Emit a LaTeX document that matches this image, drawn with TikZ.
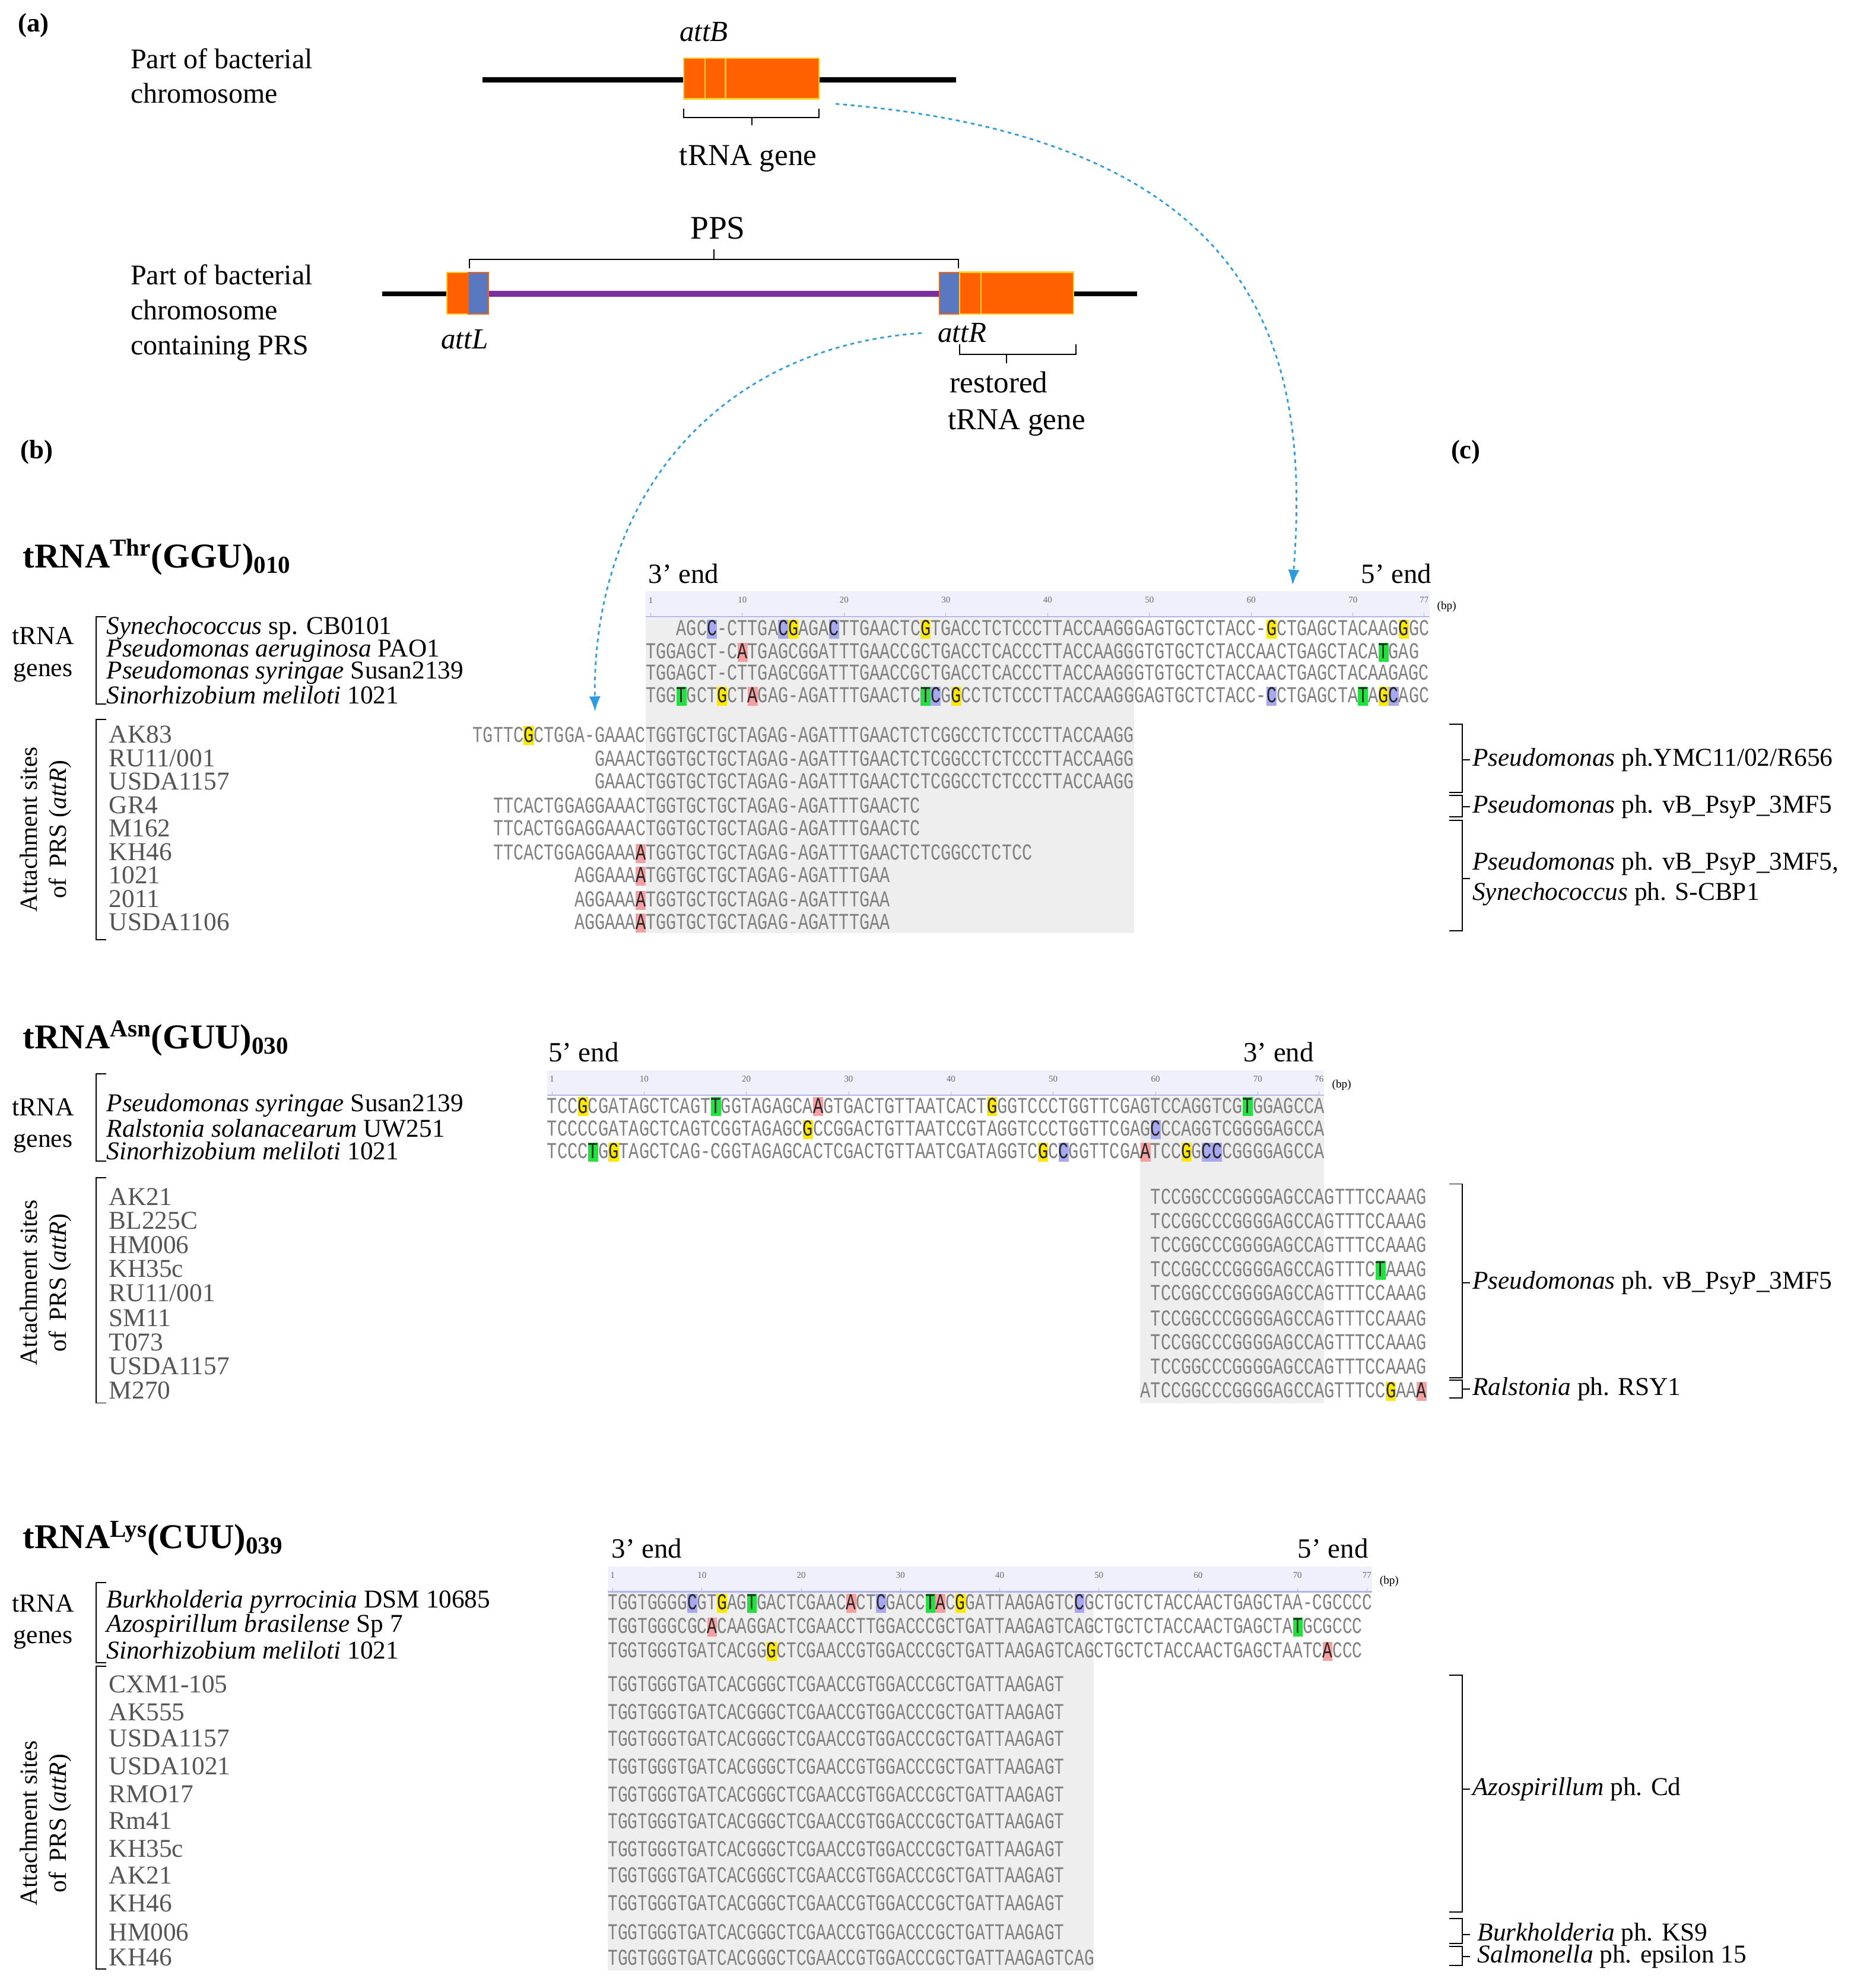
\documentclass[tikz,border=0pt]{standalone}
\usepackage{fontspec}
\setmainfont{Liberation Serif}
\newfontfamily\seqf{Liberation Mono}
\usepackage{graphicx}
\usetikzlibrary{arrows.meta}
\definecolor{orng}{HTML}{FF6000}
\definecolor{yel}{HTML}{FFD21F}
\definecolor{purp}{HTML}{7A2EA0}
\definecolor{bbox}{HTML}{5A78C0}
\definecolor{arr}{HTML}{2E9BE0}
\definecolor{hy}{HTML}{FFE800}
\definecolor{hg}{HTML}{22E040}
\definecolor{hb}{HTML}{A8A8F0}
\definecolor{hr}{HTML}{F5A0A0}
\definecolor{seqgray}{HTML}{808080}
\definecolor{graybg}{HTML}{EEEEEE}
\definecolor{band}{HTML}{F0F0FC}
\definecolor{bandline}{HTML}{B4B4EC}
\definecolor{lab}{HTML}{555555}
\newcommand\hlbox[2]{{\setlength{\fboxsep}{0pt}\colorbox{#1}{\color{black!85}\rule[-2.5pt]{0pt}{15pt}#2}}}
\newcommand\hY[1]{\hlbox{hy}{#1}}
\newcommand\hG[1]{\hlbox{hg}{#1}}
\newcommand\hB[1]{\hlbox{hb}{#1}}
\newcommand\hR[1]{\hlbox{hr}{#1}}
\tikzset{
 seq/.style={anchor=base west,inner sep=0pt,text=seqgray,font=\seqf\fontsize{18}{18}\selectfont},
 txt/.style={anchor=west,inner sep=0pt,font=\fontsize{22.5}{27.5}\selectfont,align=left},
 nm/.style={anchor=west,inner sep=0pt,font=\fontsize{20.3}{20}\selectfont},
 attl/.style={anchor=west,inner sep=0pt,text=lab,font=\fontsize{20.3}{20}\selectfont},
 ttl/.style={anchor=west,inner sep=0pt,font=\bfseries\fontsize{27.5}{27.5}\selectfont},
 endl/.style={anchor=west,inner sep=0pt,font=\fontsize{22}{22}\selectfont},
 big/.style={inner sep=0pt,font=\fontsize{24}{24}\selectfont},
 rot/.style={rotate=90,align=center,inner sep=0pt,font=\fontsize{19.5}{23}\selectfont},
 brk/.style={line width=0.9pt},
 darr/.style={arr,dashed,line width=1.3pt,-{Latex[length=12pt,width=9pt]}},
}
\newcommand\rbr[3]{\draw[brk] (1145,-#1) -- (1155,-#1) -- (1155,-#2) -- (1145,-#2); \draw[brk] (1155,-#3) -- (1161,-#3);}
\newcommand\lbr[2]{\draw[brk] (84,-#1) -- (76,-#1) -- (76,-#2) -- (84,-#2);}
\newcommand\hband[5]{%
 \fill[band] (#1,-#3) rectangle ({#1+#4*#2},{-#3-20});
 \draw[bandline,line width=1.2pt] (#1,{-#3-20}) -- ({#1+#4*#2},{-#3-20});
 \foreach \c in {1,10,20,30,40,50,60,70,#4}{
  \node[inner sep=0pt,text=black!60,font=\fontsize{7}{7}\selectfont] at ({#1+(\c-0.5)*#2},{-#3-7}) {\c};
  \draw[bandline] ({#1+(\c-0.5)*#2},{-#3-17}) -- ({#1+(\c-0.5)*#2},{-#3-20});}
 \node[inner sep=0pt,anchor=west,font=\fontsize{9}{9}\selectfont] at ({#1+#4*#2+6},{-#3-12}) {(bp)};}
\begin{document}
\begin{tikzpicture}[x=1pt,y=1pt]
\useasboundingbox[fill=white] (0,0) rectangle (1462,-1570);

% ---------- (a)
\node[anchor=west,inner sep=0pt,font=\bfseries\fontsize{21}{21}\selectfont] (la) at (14,-20) {(a)};
\node[txt] (t1) at (103,-60) {Part of bacterial\\chromosome};
\draw[line width=4pt] (381,-63) -- (755,-63);
\filldraw[fill=orng,draw=yel,line width=1.2pt] (540,-46) rectangle (647,-78);
\draw[yel,line width=1.2pt] (557,-46) -- (557,-78) (573,-46) -- (573,-78);
\node[big,font=\itshape\fontsize{23}{23}\selectfont] (attB) at (556,-25) {attB};
\draw[brk] (540,-86) -- (540,-93) -- (647,-93) -- (647,-86);
\draw[brk] (594,-93) -- (594,-99);
\node[big] (tg) at (591,-125) {tRNA gene};

\node[big,font=\fontsize{26}{26}\selectfont] (pps) at (567,-180) {PPS};
\draw[brk] (371,-212) -- (371,-205) -- (757,-205) -- (757,-212);
\draw[brk] (564,-205) -- (564,-197);
\node[txt] (t2) at (103,-247) {Part of bacterial\\chromosome\\containing PRS};
\draw[line width=4pt] (302,-232) -- (898,-232);
\draw[purp,line width=5pt] (386,-232) -- (742,-232);
\filldraw[fill=orng,draw=yel,line width=1pt] (353,-215) rectangle (371,-248);
\filldraw[fill=bbox,draw=orng,line width=1pt] (370,-215) rectangle (386,-248);
\filldraw[fill=bbox,draw=orng,line width=1pt] (742,-215) rectangle (758,-248);
\filldraw[fill=orng,draw=yel,line width=1.2pt] (758,-215) rectangle (848,-248);
\draw[yel,line width=1.2pt] (775,-215) -- (775,-248);
\node[big,font=\itshape\fontsize{23}{23}\selectfont] (attL) at (367,-268) {attL};
\node[big,font=\itshape\fontsize{23}{23}\selectfont] (attR) at (760,-263) {attR};
\draw[brk] (758,-272) -- (758,-280) -- (850,-280) -- (850,-272);
\draw[brk] (795,-280) -- (795,-287);
\node[big] (rt1) at (789,-302) {restored};
\node[big] (rt2) at (803,-334) {tRNA gene};

\coordinate (a1s) at (660,-82);
\coordinate (a1e) at (1021,-462);
\coordinate (a2s) at (728,-263);
\coordinate (a2e) at (470,-562);
\draw[darr] (a1s) .. controls (1000,-110) and (1035,-280) .. (a1e);
\draw[darr] (a2s) .. controls (560,-275) and (468,-400) .. (a2e);

\node[anchor=west,inner sep=0pt,font=\bfseries\fontsize{21}{21}\selectfont] (lb) at (16,-357) {(b)};
\node[anchor=west,inner sep=0pt,font=\bfseries\fontsize{21}{21}\selectfont] (lc) at (1146,-357) {(c)};

% ---------- block 1
\node[ttl] (T1) at (18,-440) {tRNA\textsuperscript{Thr}(GGU)\textsubscript{010}};
\node[endl] (e1a) at (512,-453) {3’ end};
\node[endl] (e1b) at (1075,-453) {5’ end};
\fill[graybg] (510,-488) rectangle (896,-737);
\hband{510}{8.04}{467}{77}{}
\node[seq] (s1r1) at (534.1,-502) {\scalebox{0.744}[1]{AGC\hB{C}-CTTGA\hB{C}\hY{G}AGA\hB{C}TTGAACTC\hY{G}TGACCTCTCCCTTACCAAGGGAGTGCTCTACC-\hY{G}CTGAGCTACAAG\hY{G}GC}};
\node[seq] (s1r2) at (510,-520) {\scalebox{0.744}[1]{TGGAGCT-C\hR{A}TGAGCGGATTTGAACCGCTGACCTCACCCTTACCAAGGGTGTGCTCTACCAACTGAGCTACA\hG{T}GAG}};
\node[seq] (s1r3) at (510,-537) {\scalebox{0.744}[1]{TGGAGCT-CTTGAGCGGATTTGAACCGCTGACCTCACCCTTACCAAGGGTGTGCTCTACCAACTGAGCTACAAGAGC}};
\node[seq] (s1r4) at (510,-555) {\scalebox{0.744}[1]{TGG\hG{T}GCT\hY{G}CT\hR{A}GAG-AGATTTGAACTC\hG{T}\hB{C}G\hY{G}CCTCTCCCTTACCAAGGGAGTGCTCTACC-\hB{C}CTGAGCTA\hG{T}A\hY{G}\hB{C}AGC}};
\node[seq] (s1a1) at (373.3,-586) {\scalebox{0.744}[1]{TGTTC\hY{G}CTGGA-GAAACTGGTGCTGCTAGAG-AGATTTGAACTCTCGGCCTCTCCCTTACCAAGG}};
\node[seq] (s1a2) at (469.8,-605) {\scalebox{0.744}[1]{GAAACTGGTGCTGCTAGAG-AGATTTGAACTCTCGGCCTCTCCCTTACCAAGG}};
\node[seq] (s1a3) at (469.8,-623) {\scalebox{0.744}[1]{GAAACTGGTGCTGCTAGAG-AGATTTGAACTCTCGGCCTCTCCCTTACCAAGG}};
\node[seq] (s1a4) at (389.4,-642) {\scalebox{0.744}[1]{TTCACTGGAGGAAACTGGTGCTGCTAGAG-AGATTTGAACTC}};
\node[seq] (s1a5) at (389.4,-660) {\scalebox{0.744}[1]{TTCACTGGAGGAAACTGGTGCTGCTAGAG-AGATTTGAACTC}};
\node[seq] (s1a6) at (389.4,-679) {\scalebox{0.744}[1]{TTCACTGGAGGAAA\hR{A}TGGTGCTGCTAGAG-AGATTTGAACTCTCGGCCTCTCC}};
\node[seq] (s1a7) at (453.7,-697) {\scalebox{0.744}[1]{AGGAAA\hR{A}TGGTGCTGCTAGAG-AGATTTGAA}};
\node[seq] (s1a8) at (453.7,-716) {\scalebox{0.744}[1]{AGGAAA\hR{A}TGGTGCTGCTAGAG-AGATTTGAA}};
\node[seq] (s1a9) at (453.7,-734) {\scalebox{0.744}[1]{AGGAAA\hR{A}TGGTGCTGCTAGAG-AGATTTGAA}};
\node[txt,font=\fontsize{20.5}{25}\selectfont,align=center,anchor=center] (tg1) at (34,-517) {tRNA\\genes};
\lbr{487}{556}
\node[nm] (n1a) at (84,-496) {\textit{Synechococcus} sp. CB0101};
\node[nm] (n1b) at (84,-514) {\textit{Pseudomonas aeruginosa} PAO1};
\node[nm] (n1c) at (84,-531) {\textit{Pseudomonas syringae} Susan2139};
\node[nm] (n1d) at (84,-549) {\textit{Sinorhizobium meliloti} 1021};
\node[rot] (as1) at (36,-655) {Attachment sites\\of \,PRS (\textit{attR})};
\lbr{568}{742}
\foreach \n/\y [count=\i] in {AK83/580,RU11\slash 001/599,USDA1157/617,GR4/636,M162/654,KH46/673,1021/691,2011/710,USDA1106/728}
  \node[attl] (l1-\i) at (86,-\y) {\n};
\rbr{572}{626}{600}
\rbr{628}{645}{637}
\rbr{648}{735}{694}
\node[nm] (c1a) at (1163,-600) {\textit{Pseudomonas} ph.YMC11/02/R656};
\node[nm] (c1b) at (1163,-637) {\textit{Pseudomonas} ph. vB\_PsyP\_3MF5};
\node[nm] (c1c) at (1163,-682) {\textit{Pseudomonas} ph. vB\_PsyP\_3MF5,};
\node[nm] (c1d) at (1163,-706) {\textit{Synechococcus} ph. S-CBP1};

% ---------- block 2
\node[ttl] (T2) at (18,-820) {tRNA\textsuperscript{Asn}(GUU)\textsubscript{030}};
\node[endl] (e2a) at (433,-831) {5’ end};
\node[endl] (e2b) at (982,-831) {3’ end};
\fill[graybg] (900.6,-866) rectangle (1046,-1108);
\hband{432}{8.08}{845}{76}{}
\node[seq] (s2r1) at (432,-879) {\scalebox{0.748}[1]{TCC\hY{G}CGATAGCTCAGT\hG{T}GGTAGAGCA\hR{A}GTGACTGTTAATCACT\hY{G}GGTCCCTGGTTCGAGTCCAGGTCG\hG{T}GGAGCCA}};
\node[seq] (s2r2) at (432,-897) {\scalebox{0.748}[1]{TCCCCGATAGCTCAGTCGGTAGAGC\hY{G}CCGGACTGTTAATCCGTAGGTCCCTGGTTCGAG\hB{C}CCAGGTCGGGGAGCCA}};
\node[seq] (s2r3) at (432,-915) {\scalebox{0.748}[1]{TCCC\hG{T}G\hY{G}TAGCTCAG-CGGTAGAGCACTCGACTGTTAATCGATAGGTC\hY{G}C\hB{C}GGTTCGA\hR{A}TCC\hY{G}G\hB{CC}CGGGGAGCCA}};
\foreach \y [count=\i] in {951,970,989,1027,1047,1066,1085}
  \node[seq] (s2a\i) at (908.7,-\y) {\scalebox{0.748}[1]{TCCGGCCCGGGGAGCCAGTTTCCAAAG}};
\node[seq] (s2kh) at (908.7,-1008) {\scalebox{0.748}[1]{TCCGGCCCGGGGAGCCAGTTTC\hG{T}AAAG}};
\node[seq] (s2m) at (900.6,-1104) {\scalebox{0.748}[1]{ATCCGGCCCGGGGAGCCAGTTTCC\hY{G}AA\hR{A}}};
\node[txt,font=\fontsize{20.5}{25}\selectfont,align=center,anchor=center] (tg2) at (34,-889) {tRNA\\genes};
\lbr{848}{917}
\node[nm] (n2a) at (84,-873) {\textit{Pseudomonas syringae} Susan2139};
\node[nm] (n2b) at (84,-891) {\textit{Ralstonia solanacearum} UW251};
\node[nm] (n2c) at (84,-909) {\textit{Sinorhizobium meliloti} 1021};
\node[rot] (as2) at (36,-1013) {Attachment sites\\of \,PRS (\textit{attR})};
\lbr{930}{1108}
\foreach \n/\y [count=\i] in {AK21/945,BL225C/964,HM006/983,KH35c/1002,RU11\slash 001/1021,SM11/1041,T073/1060,USDA1157/1079,M270/1098}
  \node[attl] (l2-\i) at (86,-\y) {\n};
\rbr{935}{1088}{1013}
\rbr{1090}{1104}{1097}
\node[nm] (c2a) at (1163,-1013) {\textit{Pseudomonas} ph. vB\_PsyP\_3MF5};
\node[nm] (c2b) at (1163,-1097) {\textit{Ralstonia} ph. RSY1};

% ---------- block 3
\node[ttl] (T3) at (18,-1215) {tRNA\textsuperscript{Lys}(CUU)\textsubscript{039}};
\node[endl] (e3a) at (483,-1223) {3’ end};
\node[endl] (e3b) at (1025,-1223) {5’ end};
\fill[graybg] (480,-1258) rectangle (864,-1556);
\hband{480}{7.84}{1237}{77}{}
\node[seq] (s3r1) at (480,-1271) {\scalebox{0.726}[1]{TGGTGGGG\hB{C}GT\hY{G}AG\hG{T}GACTCGAAC\hR{A}CT\hB{C}GACC\hG{T}\hR{A}C\hY{G}GATTAAGAGTC\hB{C}GCTGCTCTACCAACTGAGCTAA-CGCCCC}};
\node[seq] (s3r2) at (480,-1290) {\scalebox{0.726}[1]{TGGTGGGCGC\hR{A}CAAGGACTCGAACCTTGGACCCGCTGATTAAGAGTCAGCTGCTCTACCAACTGAGCTA\hG{T}GCGCCC}};
\node[seq] (s3r3) at (480,-1309) {\scalebox{0.726}[1]{TGGTGGGTGATCACGG\hY{G}CTCGAACCGTGGACCCGCTGATTAAGAGTCAGCTGCTCTACCAACTGAGCTAATC\hR{A}CCC}};
\foreach \y [count=\i] in {1336,1358,1379,1401,1423,1444,1466,1487,1509,1532}
  \node[seq] (s3a\i) at (480,-\y) {\scalebox{0.726}[1]{TGGTGGGTGATCACGGGCTCGAACCGTGGACCCGCTGATTAAGAGT}};
\node[seq] (s3last) at (480,-1552) {\scalebox{0.726}[1]{TGGTGGGTGATCACGGGCTCGAACCGTGGACCCGCTGATTAAGAGTCAG}};
\node[txt,font=\fontsize{20.5}{25}\selectfont,align=center,anchor=center] (tg3) at (34,-1281) {tRNA\\genes};
\lbr{1250}{1313}
\node[nm] (n3a) at (84,-1265) {\textit{Burkholderia pyrrocinia} DSM 10685};
\node[nm] (n3b) at (84,-1284) {\textit{Azospirillum brasilense} Sp 7};
\node[nm] (n3c) at (84,-1303) {\textit{Sinorhizobium meliloti} 1021};
\node[rot] (as3) at (36,-1440) {Attachment sites\\of \,PRS (\textit{attR})};
\lbr{1316}{1555}
\foreach \n/\y [count=\i] in {CXM1-105/1330,AK555/1352,USDA1157/1373,USDA1021/1395,RMO17/1417,Rm41/1438,KH35c/1460,AK21/1481,KH46/1503,HM006/1526,KH46/1546}
  \node[attl] (l3-\i) at (86,-\y) {\n};
\rbr{1323}{1510}{1413}
\rbr{1515}{1535}{1528}
\rbr{1537}{1552}{1545}
\node[nm] (c3a) at (1163,-1413) {\textit{Azospirillum} ph. Cd};
\node[nm] (c3b) at (1167,-1528) {\textit{Burkholderia} ph. KS9};
\node[nm] (c3c) at (1167,-1545) {\textit{Salmonella} ph. epsilon 15};
\end{tikzpicture}
\end{document}
